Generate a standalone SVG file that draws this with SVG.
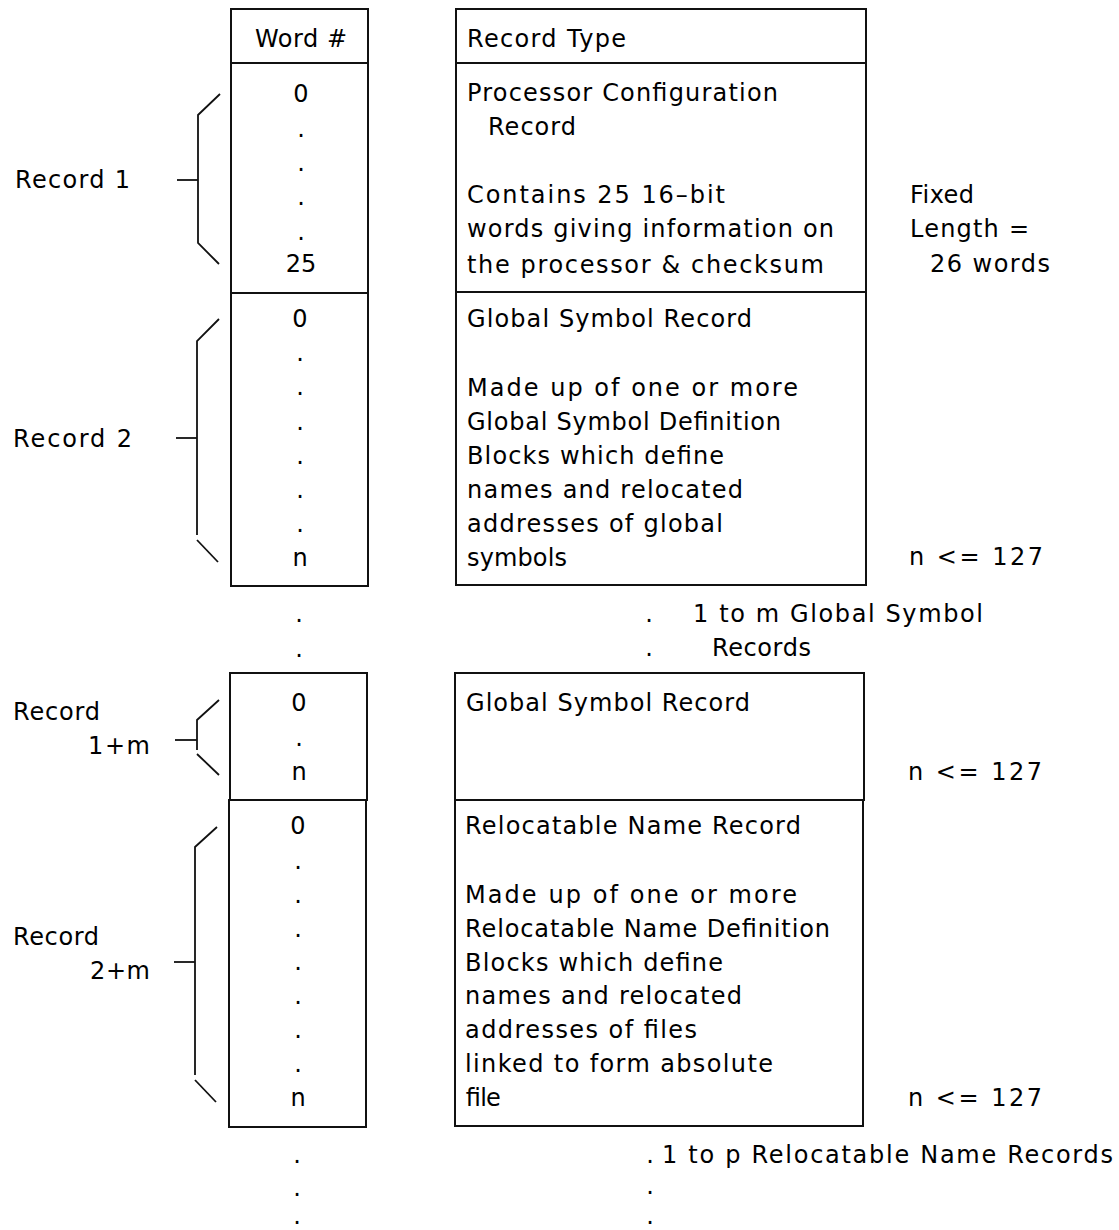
<svg xmlns="http://www.w3.org/2000/svg" width="1119" height="1230" viewBox="0 0 1119 1230">
<style>
.box{fill:none;stroke:#111;stroke-width:2}
.br{fill:none;stroke:#111;stroke-width:1.8}
text{font-family:"DejaVu Sans","Liberation Sans",sans-serif;font-size:24px;fill:#000}
.c{text-anchor:middle}
</style>
<rect width="1119" height="1230" fill="#fff"/>

<g id="header-word">
<rect class="box" x="231" y="9" width="137" height="54"/>
<text x="255" y="47" textLength="92" lengthAdjust="spacing">Word #</text>
</g>
<g id="header-type">
<rect class="box" x="456" y="9" width="410" height="54"/>
<text x="467" y="47" textLength="159" lengthAdjust="spacing">Record Type</text>
</g>

<g id="rec1-words">
<rect class="box" x="231" y="63" width="137" height="230"/>
<text class="c" x="301" y="102">0</text>
<text class="c" x="301" y="137">.</text>
<text class="c" x="301" y="171">.</text>
<text class="c" x="301" y="205">.</text>
<text class="c" x="301" y="240">.</text>
<text class="c" x="301" y="272">25</text>
</g>
<g id="rec1-type">
<rect class="box" x="456" y="63" width="410" height="229"/>
<text x="467" y="101" textLength="311" lengthAdjust="spacing">Processor Configuration</text>
<text x="488" y="135" textLength="88" lengthAdjust="spacing">Record</text>
<text x="467" y="203" textLength="258" lengthAdjust="spacing">Contains 25 16–bit</text>
<text x="467" y="237" textLength="367" lengthAdjust="spacing">words giving information on</text>
<text x="467" y="273" textLength="357" lengthAdjust="spacing">the processor &amp; checksum</text>
</g>
<g id="rec1-note">
<text x="910" y="203" textLength="64" lengthAdjust="spacing">Fixed</text>
<text x="910" y="237" textLength="119" lengthAdjust="spacing">Length =</text>
<text x="930" y="272" textLength="120" lengthAdjust="spacing">26 words</text>
</g>
<g id="rec1-label">
<text x="15" y="188" textLength="115" lengthAdjust="spacing">Record 1</text>
</g>

<g id="rec2-words">
<rect class="box" x="231" y="293" width="137" height="293"/>
<text class="c" x="300" y="327">0</text>
<text class="c" x="300" y="361">.</text>
<text class="c" x="300" y="395">.</text>
<text class="c" x="300" y="430">.</text>
<text class="c" x="300" y="464">.</text>
<text class="c" x="300" y="498">.</text>
<text class="c" x="300" y="532">.</text>
<text class="c" x="300" y="566">n</text>
</g>
<g id="rec2-type">
<rect class="box" x="456" y="292" width="410" height="293"/>
<text x="467" y="327" textLength="285" lengthAdjust="spacing">Global Symbol Record</text>
<text x="467" y="396" textLength="331" lengthAdjust="spacing">Made up of one or more</text>
<text x="467" y="430" textLength="314" lengthAdjust="spacing">Global Symbol Definition</text>
<text x="467" y="464" textLength="257" lengthAdjust="spacing">Blocks which define</text>
<text x="467" y="498" textLength="276" lengthAdjust="spacing">names and relocated</text>
<text x="467" y="532" textLength="256" lengthAdjust="spacing">addresses of global</text>
<text x="467" y="566" textLength="100" lengthAdjust="spacing">symbols</text>
</g>
<g id="rec2-note">
<text x="909" y="565" textLength="134" lengthAdjust="spacing">n &lt;= 127</text>
</g>
<g id="rec2-label">
<text x="13" y="447" textLength="119" lengthAdjust="spacing">Record 2</text>
</g>

<g id="gap1">
<text class="c" x="299" y="622">.</text>
<text class="c" x="299" y="657">.</text>
<text class="c" x="649" y="622">.</text>
<text x="693" y="622" textLength="290" lengthAdjust="spacing">1 to m Global Symbol</text>
<text class="c" x="649" y="656">.</text>
<text x="712" y="656" textLength="99" lengthAdjust="spacing">Records</text>
</g>

<g id="rec1m-words">
<rect class="box" x="230" y="673" width="137" height="127"/>
<text class="c" x="299" y="711">0</text>
<text class="c" x="299" y="746">.</text>
<text class="c" x="299" y="780">n</text>
</g>
<g id="rec1m-type">
<rect class="box" x="455" y="673" width="409" height="127"/>
<text x="466" y="711" textLength="284" lengthAdjust="spacing">Global Symbol Record</text>
</g>
<g id="rec1m-note">
<text x="908" y="780" textLength="134" lengthAdjust="spacing">n &lt;= 127</text>
</g>
<g id="rec1m-label">
<text x="13" y="720" textLength="87" lengthAdjust="spacing">Record</text>
<text x="88" y="754" textLength="62" lengthAdjust="spacing">1+m</text>
</g>

<g id="rec2m-words">
<rect class="box" x="229" y="800" width="137" height="327"/>
<text class="c" x="298" y="834">0</text>
<text class="c" x="298" y="869">.</text>
<text class="c" x="298" y="903">.</text>
<text class="c" x="298" y="937">.</text>
<text class="c" x="298" y="970">.</text>
<text class="c" x="298" y="1004">.</text>
<text class="c" x="298" y="1038">.</text>
<text class="c" x="298" y="1072">.</text>
<text class="c" x="298" y="1106">n</text>
</g>
<g id="rec2m-type">
<rect class="box" x="455" y="800" width="408" height="326"/>
<text x="465" y="834" textLength="336" lengthAdjust="spacing">Relocatable Name Record</text>
<text x="465" y="903" textLength="332" lengthAdjust="spacing">Made up of one or more</text>
<text x="465" y="937" textLength="365" lengthAdjust="spacing">Relocatable Name Definition</text>
<text x="465" y="971" textLength="258" lengthAdjust="spacing">Blocks which define</text>
<text x="465" y="1004" textLength="277" lengthAdjust="spacing">names and relocated</text>
<text x="465" y="1038" textLength="232" lengthAdjust="spacing">addresses of files</text>
<text x="465" y="1072" textLength="308" lengthAdjust="spacing">linked to form absolute</text>
<text x="465" y="1106" textLength="35" lengthAdjust="spacing">file</text>
</g>
<g id="rec2m-note">
<text x="908" y="1106" textLength="134" lengthAdjust="spacing">n &lt;= 127</text>
</g>
<g id="rec2m-label">
<text x="13" y="945" textLength="86" lengthAdjust="spacing">Record</text>
<text x="90" y="979" textLength="60" lengthAdjust="spacing">2+m</text>
</g>

<g id="gap2">
<text class="c" x="297" y="1163">.</text>
<text class="c" x="297" y="1196">.</text>
<text class="c" x="297" y="1224">.</text>
<text class="c" x="650" y="1163">.</text>
<text x="662" y="1163" textLength="451" lengthAdjust="spacing">1 to p Relocatable Name Records</text>
<text class="c" x="650" y="1194">.</text>
<text class="c" x="650" y="1224">.</text>
</g>

<g id="connectors">
<polyline class="br" points="220,94 198,115 198,243 219,264"/>
<line class="br" x1="177" y1="180" x2="198" y2="180"/>
<polyline class="br" points="219,319 197,341 197,535"/>
<line class="br" x1="197" y1="540" x2="218" y2="562"/>
<line class="br" x1="176" y1="438" x2="197" y2="438"/>
<polyline class="br" points="219,700 197,720 197,750"/>
<line class="br" x1="197" y1="754" x2="219" y2="775"/>
<line class="br" x1="175" y1="740" x2="197" y2="740"/>
<polyline class="br" points="217,827 195,847 195,1075"/>
<line class="br" x1="195" y1="1080" x2="216" y2="1102"/>
<line class="br" x1="174" y1="962" x2="195" y2="962"/>
</g>
</svg>
